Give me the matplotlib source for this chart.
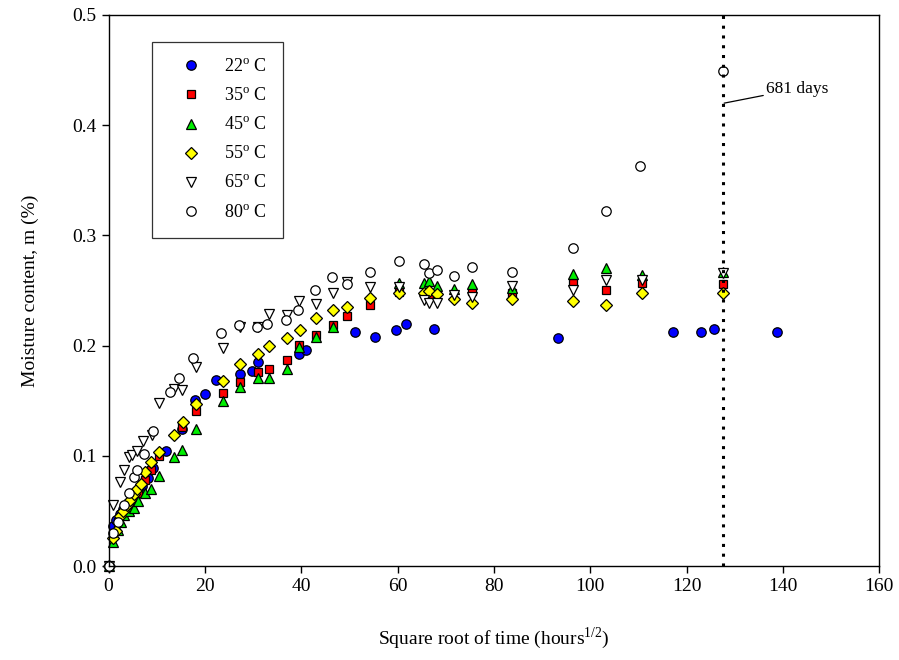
import matplotlib
matplotlib.use('Agg')
import matplotlib.pyplot as plt

plt.rcParams['font.family'] = ['Liberation Serif', 'DejaVu Serif']
plt.rcParams['mathtext.fontset'] = 'custom'
plt.rcParams['mathtext.rm'] = 'Liberation Serif'

# square root of time (hours^1/2) and moisture content (%) per temperature
x_22 = [0, 1.0, 1.5, 2.3, 3.0, 4.0, 4.9, 5.7, 6.9, 8.2, 9.3, 11.9, 15.3, 18.0, 20.0, 22.3,
        27.2, 29.8, 31.0, 39.6, 40.9, 51.1, 55.3, 59.7, 61.8, 67.6, 93.3, 117.1, 123.1,
        125.6, 138.8]
m_22 = [0, 0.036, 0.042, 0.047, 0.052, 0.057, 0.062, 0.067, 0.073, 0.080, 0.089, 0.104,
        0.124, 0.151, 0.156, 0.169, 0.174, 0.177, 0.185, 0.192, 0.196, 0.212, 0.208, 0.214,
        0.220, 0.215, 0.207, 0.212, 0.212, 0.2155, 0.212]

x_35 = [0, 1.0, 2.0, 3.2, 4.0, 5.2, 6.1, 7.6, 8.8, 10.5, 15.3, 18.1, 23.8, 27.4, 31.1,
        33.3, 37.0, 39.6, 43.1, 46.6, 49.6, 54.3, 60.3, 66.6, 75.5, 83.8, 96.4, 103.3,
        110.7, 127.5]
m_35 = [0, 0.028, 0.040, 0.052, 0.056, 0.062, 0.066, 0.078, 0.087, 0.100, 0.126, 0.141,
        0.157, 0.167, 0.176, 0.179, 0.187, 0.2005, 0.210, 0.219, 0.227, 0.237, 0.249,
        0.246, 0.2498, 0.2474, 0.2565, 0.2505, 0.2565, 0.2556]

x_45 = [0, 1.0, 2.0, 2.6, 3.3, 4.3, 5.2, 6.2, 7.6, 8.8, 10.5, 13.5, 15.3, 18.2, 23.8,
        27.4, 31.1, 33.3, 37.0, 39.6, 43.1, 46.6, 60.3, 65.5, 66.6, 68.1, 71.7, 75.5,
        83.8, 96.4, 103.3, 110.7, 127.5]
m_45 = [0, 0.022, 0.033, 0.040, 0.046, 0.050, 0.053, 0.059, 0.066, 0.070, 0.082, 0.0986,
        0.105, 0.124, 0.150, 0.162, 0.171, 0.171, 0.179, 0.199, 0.208, 0.217, 0.257,
        0.2565, 0.2586, 0.2544, 0.251, 0.2556, 0.252, 0.2647, 0.270, 0.264, 0.267]

x_55 = [0, 1.0, 1.5, 2.4, 3.1, 3.8, 4.5, 5.2, 6.0, 6.7, 7.6, 8.8, 10.5, 13.5, 15.4, 18.2,
        23.8, 27.4, 31.1, 33.3, 37.0, 39.8, 43.1, 46.6, 49.6, 54.3, 60.3, 65.5, 66.6,
        68.1, 71.7, 75.5, 83.8, 96.4, 103.3, 110.7, 127.5]
m_55 = [0, 0.025, 0.032, 0.045, 0.050, 0.055, 0.060, 0.065, 0.070, 0.074, 0.085, 0.0947,
        0.1037, 0.119, 0.131, 0.147, 0.1676, 0.1833, 0.1924, 0.200, 0.207, 0.214, 0.2248,
        0.2323, 0.2353, 0.243, 0.2474, 0.2474, 0.2498, 0.2468, 0.242, 0.2384, 0.2423,
        0.2405, 0.2368, 0.248, 0.2474]

x_65 = [0, 0.9, 2.3, 3.2, 4.3, 4.8, 6.0, 7.2, 9.0, 10.5, 13.6, 15.3, 18.2, 23.7, 27.4,
        31.0, 33.3, 37.0, 39.6, 43.1, 46.6, 49.5, 54.3, 60.3, 65.5, 66.6, 68.1, 71.7,
        75.5, 83.8, 96.4, 103.3, 110.7, 127.5]
m_65 = [0, 0.055, 0.076, 0.087, 0.099, 0.101, 0.104, 0.1137, 0.119, 0.148, 0.161, 0.160,
        0.181, 0.198, 0.2166, 0.2166, 0.2284, 0.2278, 0.2405, 0.2377, 0.248, 0.258, 0.253,
        0.2535, 0.2414, 0.2384, 0.2384, 0.246, 0.2444, 0.2544, 0.2505, 0.2595, 0.2595,
        0.2656]

x_80 = [0, 1.0, 2.0, 3.2, 4.3, 5.2, 5.85, 7.4, 9.3, 12.7, 14.7, 17.5, 23.4, 27.1, 30.8,
        32.8, 36.8, 39.4, 42.9, 46.3, 49.5, 54.2, 60.3, 65.5, 66.6, 68.1, 71.7, 75.5,
        83.8, 96.4, 103.3, 110.4, 127.5]
m_80 = [0, 0.030, 0.040, 0.055, 0.066, 0.081, 0.087, 0.102, 0.1225, 0.158, 0.171, 0.189,
        0.211, 0.219, 0.217, 0.220, 0.223, 0.232, 0.2505, 0.262, 0.256, 0.2665, 0.277,
        0.274, 0.266, 0.2686, 0.263, 0.2716, 0.267, 0.289, 0.322, 0.363, 0.449]

series = [
    (x_22, m_22, 'o', '#0000ff', '22$^{\\rm o}$ C'),
    (x_35, m_35, 's', '#ff0000', '35$^{\\rm o}$ C'),
    (x_45, m_45, '^', '#00ee00', '45$^{\\rm o}$ C'),
    (x_55, m_55, 'D', '#ffff00', '55$^{\\rm o}$ C'),
    (x_65, m_65, 'v', 'white', '65$^{\\rm o}$ C'),
    (x_80, m_80, 'o', 'white', '80$^{\\rm o}$ C'),
]

day_line = 127.5

fig = plt.figure(figsize=(8.99, 6.6), dpi=100)
ax = fig.add_axes([0.1207, 0.1424, 0.8573, 0.8349])

for x, m, mk, col, lab in series:
    ms = 5.8 if mk in ('D', 's') else 6.8
    ax.plot(x, m, linestyle='none', marker=mk, markersize=ms, markerfacecolor=col,
            markeredgecolor='black', markeredgewidth=0.9, label=lab, clip_on=False)

ax.axvline(day_line, color='black', linestyle=(0, (1, 2.2)), linewidth=2.2)
ax.annotate('681 days', xy=(127.8, 0.420), xytext=(136.5, 0.433),
            fontsize=12.5, va='center', ha='left',
            arrowprops=dict(arrowstyle='-', color='black', lw=0.9, shrinkA=0, shrinkB=0))

ax.set_xlim(0, 160)
ax.set_ylim(0, 0.5)
ax.set_xticks(range(0, 161, 20))
ax.set_yticks([0, 0.1, 0.2, 0.3, 0.4, 0.5])
ax.set_yticklabels(['0.0', '0.1', '0.2', '0.3', '0.4', '0.5'])
ax.tick_params(direction='out', length=5, width=1, labelsize=14, top=False, right=False)
for sp in ax.spines.values():
    sp.set_linewidth(1.0)

ax.set_xlabel('Square root of time (hours$^{1/2}$)', fontsize=14, labelpad=22)
ax.set_ylabel('Moisture content, m (%)', fontsize=14, labelpad=24)

leg = ax.legend(loc='upper left', bbox_to_anchor=(0.056, 0.951), fontsize=13,
                frameon=True, fancybox=False, edgecolor='black', labelspacing=0.66,
                handletextpad=0.5, borderpad=0.9, handlelength=2.6, borderaxespad=0)
leg.get_frame().set_linewidth(0.9)

fig.savefig('out.png', dpi=100)
